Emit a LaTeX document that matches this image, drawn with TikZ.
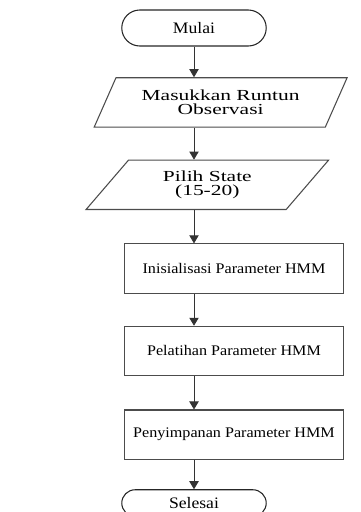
\documentclass[tikz,border=0pt]{standalone}
\usepackage{fontspec}
\setmainfont{Liberation Serif}[FakeStretch=1.1]
\newfontfamily\iofont{Liberation Serif}[FakeStretch=1.4]
\usepackage{tikz}
\usetikzlibrary{
    positioning,
    arrows.meta,
    shapes.geometric,
    shapes.misc
}
\tikzset{
    terminal/.style={
        shape=rounded rectangle,
        draw=black!85, thick,
        minimum width=115pt, minimum height=27pt,
        font=\fontsize{12}{12}\selectfont
    },
    io/.style={
        shape=trapezium,
        trapezium left angle=64,
        trapezium right angle=116,
        trapezium stretches=true,
        draw=black!70, thick,
        minimum width=190pt, minimum height=37pt,
        align=center, inner xsep=0pt,
        font=\iofont\fontsize{11.5}{10.5}\selectfont
    },
    process/.style={
        rectangle, draw=black!70, thick,
        minimum width=164pt, minimum height=37pt,
        align=center,
        font=\fontsize{11}{11}\selectfont
    },
    arrow/.style={
        -{Triangle[length=6pt, width=7pt]}, draw=black!80, semithick
    }
}

\begin{document}
\begin{tikzpicture}[
    node distance=24pt
]
    \useasboundingbox (0,0) rectangle (270.75pt,-384pt);

    % --- START ---
    \node[terminal] (mulai) at (145.5pt,-21pt) {Mulai};

    % --- INPUT ---
    \node[io, below=23pt of mulai, xshift=20pt] (input) {Masukkan Runtun\\Observasi};
    \node[io, below=of input, xshift=-10pt, trapezium left angle=57, trapezium right angle=123,
          minimum width=182pt] (state) {Pilih State\\(15-20)};

    % --- PROCESS ---
    \node[process, below=25pt of state, xshift=20pt] (init) {Inisialisasi Parameter HMM};
    \node[process, below=of init] (train) {Pelatihan Parameter HMM};
    \node[process, below=25pt of train] (save) {Penyimpanan Parameter HMM};

    % --- END ---
    \node[terminal, below=22pt of save, xshift=-30pt, minimum height=20pt] (selesai) {Selesai};

    % --- ARROWS ---
    \draw[arrow] (mulai.south) -- (mulai.south |- input.north);
    \draw[arrow] (mulai |- input.south) -- (mulai |- state.north);
    \draw[arrow] (mulai |- state.south) -- (mulai |- init.north);
    \draw[arrow] (mulai |- init.south) -- (mulai |- train.north);
    \draw[arrow] (mulai |- train.south) -- (mulai |- save.north);
    \draw[arrow] (mulai |- save.south) -- (selesai.north);

\end{tikzpicture}
\end{document}
